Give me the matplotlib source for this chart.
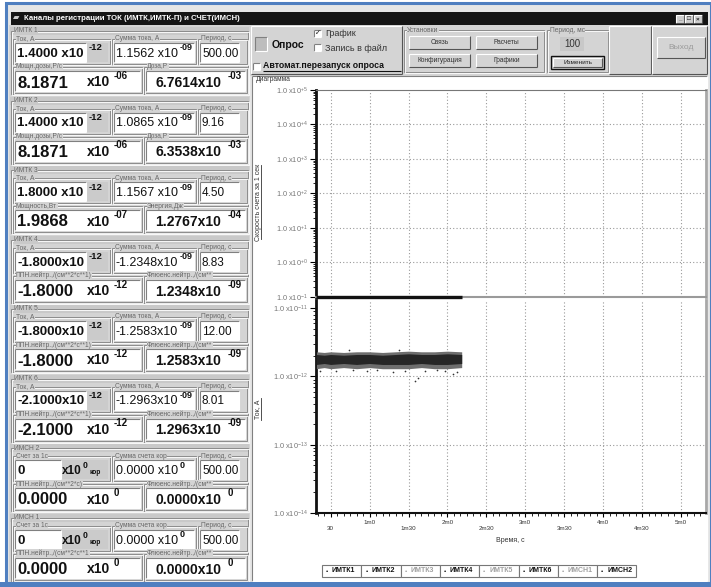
import math
import matplotlib.pyplot as plt
from matplotlib.patches import Rectangle
from matplotlib.ticker import FixedLocator, MultipleLocator, LogLocator, NullFormatter, FuncFormatter

plt.rcParams['font.family'] = ['Liberation Sans', 'DejaVu Sans']
plt.rcParams['mathtext.default'] = 'regular'

# ---- readings of the left panel ----
channels = ["ИМТК 1", "ИМТК 2", "ИМТК 3", "ИМТК 4", "ИМТК 5", "ИМТК 6", "ИМСН 2", "ИМСН 1"]
cur_label = ["Ток, А"] * 6 + ["Счет за 1с"] * 2
cur_mant = ["1.4000 x10", "1.4000 x10", "1.8000 x10", "-1.8000x10", "-1.8000x10", "-2.1000x10", "0", "0"]
cur_exp = ["-12"] * 6 + ["0", "0"]
sum_label = ["Сумма тока, А"] * 6 + ["Сумма счета кор"] * 2
sum_mant = ["1.1562 x10", "1.0865 x10", "1.1567 x10", "-1.2348x10", "-1.2583x10", "-1.2963x10",
            "0.0000 x10", "0.0000 x10"]
sum_exp = ["-09"] * 6 + ["0", "0"]
periods = ["500.00", "9.16", "4.50", "8.83", "12.00", "8.01", "500.00", "500.00"]
rate_label = ["Мощн.дозы,Р/с", "Мощн.дозы,Р/с", "Мощность,Вт",
              "ППН.нейтр.,/(см**2*с**1)", "ППН.нейтр.,/(см**2*с**1)", "ППН.нейтр.,/(см**2*с**1)",
              "ППН.нейтр.,/(см**2*с)", "ППН.нейтр.,/(см**2*с**1"]
rate_mant = ["8.1871", "8.1871", "1.9868", "-1.8000", "-1.8000", "-2.1000", "0.0000", "0.0000"]
rate_exp = ["-06", "-06", "-07", "-12", "-12", "-12", "0", "0"]
dose_label = ["Доза,Р", "Доза,Р", "Энергия,Дж"] + ["Флюенс.нейтр.,/(см**"] * 5
dose_mant = ["6.7614x10", "6.3538x10", "1.2767x10", "1.2348x10", "1.2583x10", "1.2963x10",
             "0.0000x10", "0.0000x10"]
dose_exp = ["-03", "-03", "-04", "-09", "-09", "-09", "0", "0"]

# ---- chart data ----
time_ticks = [30, 60, 90, 120, 150, 180, 210, 240, 270, 300]
time_labels = ["30", "1m0", "1m30", "2m0", "2m30", "3m0", "3m30", "4m0", "4m30", "5m0"]
rate_t = [19, 131]
rate_v = [0.1, 0.1]
# current band (A), upper / lower envelope and dense core
band_t = [19, 25, 30, 40, 50, 60, 70, 80, 90, 100, 110, 120, 131]
band_hi = [2.3e-12, 2.25e-12, 2.3e-12, 2.25e-12, 2.3e-12, 2.3e-12, 2.25e-12, 2.3e-12, 2.35e-12,
           2.3e-12, 2.3e-12, 2.35e-12, 2.3e-12]
band_lo = [1.3e-12, 1.35e-12, 1.3e-12, 1.35e-12, 1.3e-12, 1.35e-12, 1.3e-12, 1.3e-12, 1.3e-12,
           1.35e-12, 1.3e-12, 1.3e-12, 1.35e-12]
core_hi = [2.1e-12, 2.05e-12, 2.1e-12, 2.05e-12, 2.1e-12, 2.1e-12, 2.05e-12, 2.1e-12, 2.15e-12,
           2.1e-12, 2.1e-12, 2.15e-12, 2.1e-12]
core_lo = [1.5e-12, 1.55e-12, 1.5e-12, 1.55e-12, 1.5e-12, 1.55e-12, 1.5e-12, 1.5e-12, 1.5e-12,
           1.55e-12, 1.5e-12, 1.5e-12, 1.55e-12]
out_t = [22, 34, 47, 58, 66, 78, 87, 95, 97, 103, 112, 118, 124, 127, 44, 83]
out_v = [1.22e-12, 1.2e-12, 1.25e-12, 1.2e-12, 1.24e-12, 1.15e-12, 1.2e-12, 0.85e-12, 0.95e-12,
         1.2e-12, 1.25e-12, 1.2e-12, 1.1e-12, 1.18e-12, 2.45e-12, 2.42e-12]

legend_names = ["ИМТК1", "ИМТК2", "ИМТК3", "ИМТК4", "ИМТК5", "ИМТК6", "ИМСН1", "ИМСН2"]
legend_on = [True, True, False, True, False, True, False, True]

W, H = 711, 587
GRAY = '#d4d4d4'
fig = plt.figure(figsize=(W / 100, H / 100), dpi=100)
ui = fig.add_axes([0, 0, 1, 1])
ui.set_xlim(0, W)
ui.set_ylim(H, 0)
ui.axis('off')


def box(x0, y0, x1, y1, fc, ec='none', lw=0.8, z=1):
    ui.add_patch(Rectangle((x0, y0), x1 - x0, y1 - y0, facecolor=fc, edgecolor=ec, linewidth=lw, zorder=z))


def line(xs, ys, c, lw=0.8, z=2):
    ui.plot(xs, ys, color=c, lw=lw, zorder=z, solid_capstyle='butt')


def sunken(x0, y0, x1, y1, fc='white'):
    box(x0, y0, x1, y1, fc)
    line([x0, x1], [y0, y0], '#808080')
    line([x0, x0], [y0, y1], '#808080')
    line([x0, x1], [y1, y1], '#ffffff')
    line([x1, x1], [y0, y1], '#ffffff')


def raised(x0, y0, x1, y1, fc=GRAY, dark='#555555'):
    box(x0, y0, x1, y1, fc)
    line([x0, x1], [y0, y0], '#ffffff')
    line([x0, x0], [y0, y1], '#ffffff')
    line([x0, x1], [y1, y1], dark)
    line([x1, x1], [y0, y1], dark)


def txt(x, y, s, size=5, color='#333333', weight='normal', ha='left', va='center', **kw):
    return ui.text(x, y, s, fontsize=size, color=color, fontweight=weight, ha=ha, va=va, zorder=5, **kw)


def group(x0, y0, x1, y1, label, bg=GRAY, size=4.8):
    ui.add_patch(Rectangle((x0, y0), x1 - x0, y1 - y0, fill=False, edgecolor='#8c8c8c', lw=0.7, zorder=2))
    ui.add_patch(Rectangle((x0 + 1, y0 + 1), x1 - x0, y1 - y0, fill=False, edgecolor='#ffffff', lw=0.6, zorder=2))
    txt(x0 + 3, y0, label, size=size, color='#666666',
        bbox=dict(facecolor=bg, edgecolor='none', pad=0.3))


# window frame
box(0, 0, W, H, 'white', z=0)
box(6, 3, W, 583, '#e6e6e6', ec='#4f7fc0', lw=2.2, z=0)
box(0, 582, W, H, '#4f7fc0', z=3)
box(11, 12, 708, 25, '#151515')
txt(13, 18.5, "▰", size=6, color='#cccccc')
txt(24, 18.5, "Каналы регистрации ТОК (ИМТК,ИМТК-П) и СЧЕТ(ИМСН)", size=5.6, color='white', weight='bold')
for bx, sym in zip([676, 685, 694], ["_", "□", "×"]):
    raised(bx, 15, bx + 8, 23, fc='#cfcfcf')
    txt(bx + 4, 19, sym, size=4.5, color='#222222', ha='center', weight='bold')

# left panel
box(9, 25, 250, 582, GRAY)
for i in range(len(channels)):
    y0 = 27 + 69.5 * i
    box(10, y0, 249, y0 + 8, '#c9c9c9')
    group(11, y0 + 4, 248, y0 + 67, channels[i], bg='#c9c9c9')
    # row 1
    group(13, y0 + 12, 110, y0 + 37, cur_label[i])
    group(112, y0 + 12, 196, y0 + 37, sum_label[i])
    group(198, y0 + 12, 247, y0 + 37, "Период, с")
    v1 = y0 + 26
    if i < 6:
        sunken(15, y0 + 16, 86, y0 + 35)
        box(87, y0 + 16, 108, y0 + 35, '#cbcbcb')
        txt(17, v1 + 1, cur_mant[i], size=9.5, color='#111111', weight='bold')
        txt(89, v1 - 5, cur_exp[i], size=6.8, color='#111111', weight='bold')
    else:
        sunken(15, y0 + 16, 61, y0 + 35)
        box(62, y0 + 16, 108, y0 + 35, '#cbcbcb')
        txt(17, v1 + 1, cur_mant[i], size=9.5, color='#111111', weight='bold')
        txt(62, v1 + 1, "x10", size=8.5, color='#111111', weight='bold')
        txt(83, v1 - 4, cur_exp[i], size=6.3, color='#111111', weight='bold')
        txt(89, v1 + 3, "кор", size=4.8, color='#111111', weight='bold')
    sunken(114, y0 + 16, 194, y0 + 35)
    txt(116, v1 + 1, sum_mant[i], size=9, color='#111111')
    txt(180, v1 - 5, sum_exp[i], size=6.5, color='#111111', weight='bold')
    sunken(200, y0 + 16, 239, y0 + 35)
    txt(202, v1 + 1, periods[i], size=8.5, color='#111111')
    # row 2
    group(13, y0 + 40, 142, y0 + 66, rate_label[i])
    group(144, y0 + 40, 247, y0 + 66, dose_label[i])
    v2 = y0 + 55
    sunken(15, y0 + 44, 140, y0 + 64)
    txt(17, v2 + 1, rate_mant[i], size=12, color='#111111', weight='bold')
    txt(87, v2 + 0.5, "x10", size=10, color='#111111', weight='bold')
    txt(114, v2 - 6, rate_exp[i], size=7, color='#111111', weight='bold')
    sunken(146, y0 + 44, 245, y0 + 64)
    txt(155, v2 + 1, dose_mant[i], size=10, color='#111111', weight='bold')
    txt(228, v2 - 6, dose_exp[i], size=7, color='#111111', weight='bold')

# toolbar
box(250, 25, 708, 76, GRAY)
raised(251, 26, 402, 74)
sunken(255, 37, 267, 51, fc='#bdbdbd')
txt(272, 44.5, "Опрос", size=7.5, color='#111111', weight='bold')
sunken(314, 30, 321, 37)
txt(317.5, 33.2, "✓", size=5, color='#111111', ha='center')
txt(325, 33.5, "График", size=6.5, color='#333333')
sunken(314, 44, 321, 51)
txt(325, 48.5, "Запись в файл", size=6.5, color='#333333')
sunken(253, 63, 260, 70)
txt(263, 66, "Автомат.перезапуск опроса", size=6.3, color='#111111', weight='bold')
line([263, 401], [70.5, 70.5], '#111111', lw=0.8, z=5)

group(404, 30, 544, 72, "Установки")
for (bx, by, lab) in [(409, 36, "Связь"), (476, 36, "Расчеты"), (409, 54, "Конфигурация"), (476, 54, "Графики")]:
    raised(bx, by, bx + 61, by + 13)
    txt(bx + 30.5, by + 6.5, lab, size=4.8, color='#333333', ha='center')
group(547, 30, 608, 72, "Период, мс")
box(560, 37, 584, 51, '#c8c8c8')
txt(572, 44, "100", size=7, color='#333333', ha='center')
box(551, 56, 604, 69, GRAY, ec='#111111', lw=1.0)
raised(553, 58, 602, 67)
txt(577.5, 62.5, "Изменить", size=4.6, color='#222222', ha='center')
raised(609, 26, 651, 74)
raised(652, 26, 707, 74)
raised(657, 37, 705, 58)
txt(681, 47.5, "Выход", size=6, color='#9a9a9a', ha='center')

# chart panel
sunken(252, 76, 707, 581)
txt(256, 79.5, "Диаграмма", size=4.8, color='#333333')

L, R = 316, 706
ax1 = fig.add_axes([L / W, 1 - 297 / H, (R - L) / W, (297 - 90) / H])
ax2 = fig.add_axes([L / W, 1 - 513 / H, (R - L) / W, (513 - 300) / H])


def exp_fmt(v, pos):
    e = int(round(math.log10(v)))
    return "1.0 x10$^{%+d}$" % e


for ax in (ax1, ax2):
    ax.set_facecolor('none')
    ax.set_yscale('log')
    ax.set_xlim(18.7, 319.3)
    ax.xaxis.set_major_locator(FixedLocator(time_ticks))
    ax.grid(axis='x', which='major', linestyle=(0, (1, 2)), color='#999999', lw=0.8)
    ax.yaxis.set_major_formatter(FuncFormatter(exp_fmt))
    ax.yaxis.set_minor_locator(LogLocator(subs=range(2, 10)))
    ax.yaxis.set_minor_formatter(NullFormatter())
    ax.tick_params(axis='y', which='major', length=4, width=0.8, direction='out',
                   labelsize=5.3, labelcolor='#777777', pad=2)
    ax.tick_params(axis='y', which='minor', length=2, width=0.6, direction='out')
    ax.spines['left'].set_linewidth(2)
    ax.spines['left'].set_color('#111111')
    ax.spines['right'].set_color('#a8a8a8')
    ax.spines['right'].set_linewidth(2)

ax1.set_ylim(1e-1, 1e5)
ax1.yaxis.set_major_locator(FixedLocator([1e-1, 1e0, 1e1, 1e2, 1e3, 1e4, 1e5]))
for v in [1e0, 1e1, 1e2, 1e3, 1e4]:
    ax1.axhline(v, linestyle=(0, (1, 2)), color='#999999', lw=0.8)
ax1.tick_params(axis='x', length=0, labelbottom=False)
ax1.spines['top'].set_color('#777777')
ax1.spines['bottom'].set_color('#9a9a9a')
ax1.spines['bottom'].set_linewidth(1.5)
ax1.plot(rate_t, rate_v, color='#111111', lw=2.4, clip_on=False, solid_capstyle='butt', zorder=5)

ax2.set_ylim(1e-14, 1.32e-11)
ax2.yaxis.set_major_locator(FixedLocator([1e-14, 1e-13, 1e-12, 1e-11]))
for v in [1e-13, 1e-12]:
    ax2.axhline(v, linestyle=(0, (1, 2)), color='#999999', lw=0.8)
ax2.spines['top'].set_visible(False)
ax2.spines['bottom'].set_color('#111111')
ax2.spines['bottom'].set_linewidth(1.5)
ax2.xaxis.set_minor_locator(MultipleLocator(5))
ax2.set_xticklabels([("\n" + s) if k % 2 == 0 else s for k, s in enumerate(time_labels)])
ax2.tick_params(axis='x', which='major', length=3, width=0.8, direction='out',
                labelsize=4.5, labelcolor='#333333', pad=2)
ax2.tick_params(axis='x', which='minor', length=2, width=0.6, direction='out')
ax2.fill_between(band_t, band_lo, band_hi, color='#6e6e6e', lw=0, zorder=3)
ax2.fill_between(band_t, core_lo, core_hi, color='#262626', lw=0, zorder=4)
ax2.scatter(out_t, out_v, s=1.5, color='#333333', zorder=5, lw=0)

fig.text(258 / W, 1 - 202 / H, "Скорость счета за 1 сек", rotation=90, fontsize=5,
         color='#333333', ha='center', va='center')
ui.plot([261, 261], [165, 239], color='#333333', lw=0.6)
fig.text(258 / W, 1 - 409 / H, "Ток, А", rotation=90, fontsize=5,
         color='#333333', ha='center', va='center')
ui.plot([261, 261], [398, 420], color='#333333', lw=0.6)
fig.text(510 / W, 1 - 541 / H, "Время, с", fontsize=5, color='#333333', ha='center', va='center')

# series buttons
for k, name in enumerate(legend_names):
    bx = 322 + 39.3 * k
    box(bx, 565, bx + 39.3, 577, 'white', ec='#777777', lw=0.8)
    col = '#111111' if legend_on[k] else '#a0a0a0'
    txt(bx + 4, 571, "•", size=4.5, color=col)
    txt(bx + 10, 571, name, size=5, color=col, weight='bold')

fig.savefig("out.png", dpi=100)
